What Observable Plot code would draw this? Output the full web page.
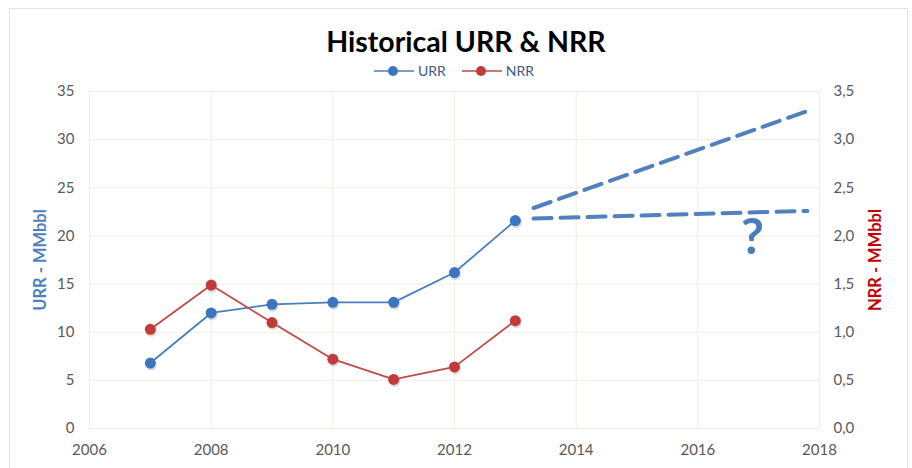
<!DOCTYPE html>
<html><head><meta charset="utf-8">
<script src="https://cdn.jsdelivr.net/npm/d3@7"></script>
<script src="https://cdn.jsdelivr.net/npm/@observablehq/plot@0.6"></script>
<style>
body{margin:0;background:#fff;font-family:Lato,"Open Sans",sans-serif;}
#wrap{position:relative;width:912px;height:468px;overflow:hidden;background:#fff;}
#frame{position:absolute;left:9px;top:8px;width:899px;height:480px;border:1px solid #E6E4D9;box-sizing:border-box;}
#title{position:absolute;left:10px;width:912px;top:24px;text-align:center;font-weight:bold;font-size:28.5px;color:#000;line-height:34px;}
#legend{position:absolute;top:62px;left:-2px;width:912px;display:flex;justify-content:center;align-items:center;font-size:14px;color:#3F5A86;line-height:18px;}
#legend .item{display:flex;align-items:center;margin:0 8px;}
#legend svg{margin-right:4px;}
#chart{position:absolute;left:0;top:80px;}
</style>
</head><body>
<div id="wrap">
<div id="frame"></div>
<div id="title">Historical URR &amp; NRR</div>
<div id="legend"></div>
<div id="chart"></div>
</div>
<script>
// ---- data ----
const years = [2007, 2008, 2009, 2010, 2011, 2012, 2013];
const urr = [6.8, 12.0, 12.9, 13.1, 13.1, 16.2, 21.6];
const nrr = [1.03, 1.49, 1.10, 0.72, 0.51, 0.64, 1.12];
const xTicks = [2006, 2008, 2010, 2012, 2014, 2016, 2018];
const yTicksURR = [0, 5, 10, 15, 20, 25, 30, 35];
const yTicksNRR = ["0,0", "0,5", "1,0", "1,5", "2,0", "2,5", "3,0", "3,5"];
const nrrFactor = 10; // NRR axis = URR axis / 10
// hand-drawn projection dashes (year, URR)
const projUpperYears = [2013.3, 2017.9];
const projUpperURR = [22.9, 33.2];
const projLowerYears = [2013.3, 2017.8];
const projLowerURR = [21.8, 22.6];
const questionYear = [2016.9];
const questionURR = [19.8];
const seriesNames = ["URR", "NRR"];
const seriesColors = ["#4A7EBB", "#BE4B48"];
const dotColors = ["#3B75C0", "#C23B3B"];

// ---- legend ----
const leg = document.getElementById("legend");
seriesNames.forEach((n, i) => {
  const it = document.createElement("div");
  it.className = "item";
  it.innerHTML = `<svg width="40" height="12"><line x1="0" y1="6" x2="40" y2="6" stroke="${seriesColors[i]}" stroke-width="1.5"/><circle cx="19" cy="6" r="5" fill="${dotColors[i]}"/></svg><span>${n}</span>`;
  leg.appendChild(it);
});

// ---- chart ----
const urrData = years.map((y, i) => ({year: y, v: urr[i]}));
const nrrData = years.map((y, i) => ({year: y, v: nrr[i] * nrrFactor}));
const up = projUpperYears.map((y, i) => ({year: y, v: projUpperURR[i]}));
const lo = projLowerYears.map((y, i) => ({year: y, v: projLowerURR[i]}));
const q = questionYear.map((y, i) => ({year: y, v: questionURR[i]}));
const grid = "#EFEDE3";

const chart = Plot.plot({
  width: 912,
  height: 388,
  marginTop: 11,
  marginBottom: 40,
  marginLeft: 89,
  marginRight: 93,
  x: {domain: [2006, 2018]},
  y: {domain: [0, 35]},
  style: {fontFamily: "Lato, 'Open Sans', sans-serif", fontSize: "15px", color: "#595959", background: "transparent"},
  marks: [
    Plot.gridX(xTicks, {stroke: grid, strokeOpacity: 1, strokeWidth: 1}),
    Plot.gridY(yTicksURR, {stroke: grid, strokeOpacity: 1, strokeWidth: 1}),
    Plot.axisX(xTicks, {tickSize: 0, tickPadding: 16, tickFormat: d => String(d), label: null, fill: "#595959"}),
    Plot.axisY(yTicksURR, {anchor: "left", tickSize: 0, tickPadding: 15, label: null, fill: "#595959"}),
    Plot.axisY(yTicksURR, {anchor: "right", tickSize: 0, tickPadding: 14, label: null, fill: "#595959",
      tickFormat: d => yTicksNRR[yTicksURR.indexOf(d)]}),
    Plot.text(["URR - MMbbl"], {frameAnchor: "left", textAnchor: "middle", dx: -49, rotate: -90, fill: "#4F81BD", fontWeight: "bold", fontSize: 16.5}),
    Plot.text(["NRR - MMbbl"], {frameAnchor: "right", textAnchor: "middle", dx: 56, rotate: -90, fill: "#C00000", fontWeight: "bold", fontSize: 16.5}),
    Plot.line(up, {x: "year", y: "v", stroke: "#4F81BD", strokeWidth: 4, strokeDasharray: "18,9"}),
    Plot.line(lo, {x: "year", y: "v", stroke: "#4F81BD", strokeWidth: 4, strokeDasharray: "18,9"}),
    Plot.text(q, {x: "year", y: "v", text: () => "?", fontSize: 50, fontWeight: "bold", fill: "#4A7EBB"}),
    Plot.line(urrData, {x: "year", y: "v", stroke: seriesColors[0], strokeWidth: 1.8}),
    Plot.line(nrrData, {x: "year", y: "v", stroke: seriesColors[1], strokeWidth: 1.8}),
    Plot.dot(urrData, {x: "year", y: "v", r: 5.5, fill: "#999", fillOpacity: 0.35, dx: 1, dy: 2}),
    Plot.dot(nrrData, {x: "year", y: "v", r: 5.5, fill: "#999", fillOpacity: 0.35, dx: 1, dy: 2}),
    Plot.dot(urrData, {x: "year", y: "v", r: 5.5, fill: dotColors[0]}),
    Plot.dot(nrrData, {x: "year", y: "v", r: 5.5, fill: dotColors[1]})
  ]
});
document.getElementById("chart").appendChild(chart);
</script>
</body></html>
